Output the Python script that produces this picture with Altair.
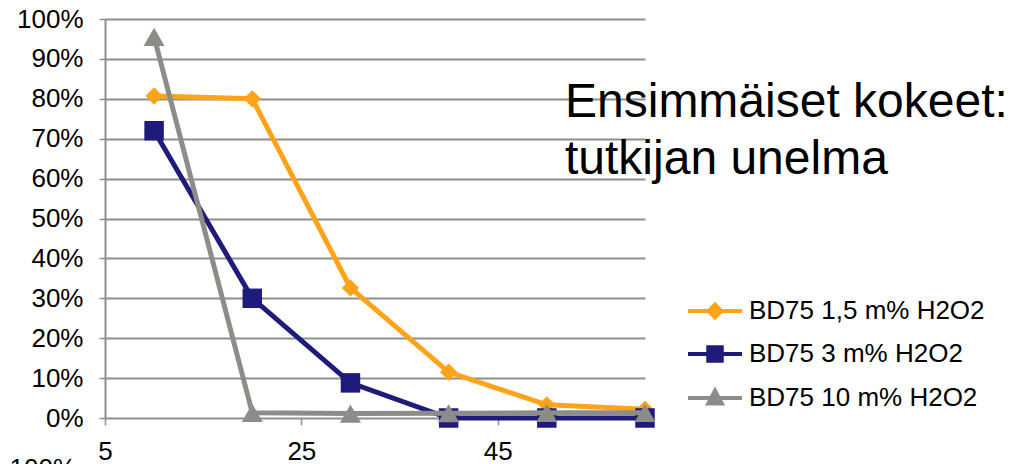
import altair as alt
import pandas as pd

# Share of remaining substance at each time point, three H2O2 doses
series_names = ["BD75 1,5 m% H2O2", "BD75 3 m% H2O2", "BD75 10 m% H2O2"]
time_points = [10, 20, 30, 40, 50, 60]
dose_1_5 = [0.807, 0.800, 0.326, 0.115, 0.033, 0.022]
dose_3 = [0.720, 0.300, 0.088, 0.0, 0.0, 0.0]
dose_10 = [0.955, 0.013, 0.011, 0.012, 0.013, 0.013]

series_colors = ["#FFA31A", "#1F1B7B", "#8C8C88"]
marker_shapes = ["diamond", "square", "triangle-up"]
marker_sizes = [300, 380, 440]
# legend symbols: a line segment through the marker
legend_paths = [
    "M-3,0L3,0M0,-0.7L0.7,0L0,0.7L-0.7,0Z",
    "M-3,0L3,0M-0.75,-0.75L0.75,-0.75L0.75,0.75L-0.75,0.75Z",
    "M-3,0L3,0M0,-0.8L0.75,0.6L-0.75,0.6Z",
]

x_ticks = [5, 25, 45]
y_ticks = [i / 10 for i in range(11)]
note_text = "Ensimmäiset kokeet:\ntutkijan unelma"
corner_text = "100%"

rows = []
for name, vals in zip(series_names, [dose_1_5, dose_3, dose_10]):
    for t, v in zip(time_points, vals):
        rows.append({"series": name, "t": t, "share": v})
df = pd.DataFrame(rows)

FONT = "Liberation Sans"
GRID = "#8E8E8E"

x_enc = alt.X(
    "t:Q",
    scale=alt.Scale(domain=[5, 60], nice=False, zero=False),
    axis=alt.Axis(
        values=x_ticks, title=None, grid=False, domain=False,
        tickColor=GRID, tickWidth=1.5, tickSize=7,
        labelFontSize=26, labelFont=FONT, labelColor="#000000",
        labelPadding=13, labelFlush=False,
    ),
)
y_enc = alt.Y(
    "share:Q",
    scale=alt.Scale(domain=[0, 1], nice=False),
    axis=alt.Axis(
        values=y_ticks, format=".0%", title=None,
        grid=True, gridColor=GRID, gridWidth=2,
        domain=True, domainColor=GRID, domainWidth=2,
        tickColor=GRID, tickWidth=1.5, tickSize=6,
        labelFontSize=26, labelFont=FONT, labelColor="#000000",
        labelPadding=16,
    ),
)

base = alt.Chart(df)
layers = []
for name, color, shape, size in zip(series_names, series_colors, marker_shapes, marker_sizes):
    sub = base.transform_filter(alt.datum.series == name)
    layers.append(
        sub.mark_line(color=color, strokeWidth=5).encode(x=x_enc, y=y_enc, order="t:Q")
    )
    layers.append(
        sub.mark_point(shape=shape, filled=True, color=color, size=size, opacity=1).encode(
            x=x_enc, y=y_enc
        )
    )

legend_cfg = alt.Legend(
    title=None, orient="none", legendX=597, legendY=279, padding=0,
    labelFontSize=26, labelFont=FONT, labelColor="#000000", labelLimit=400,
    symbolSize=324, symbolStrokeWidth=4, symbolOpacity=1,
    labelOffset=21, rowPadding=13,
)
legend_layer = base.mark_point(filled=True, opacity=0).encode(
    x=x_enc,
    y=y_enc,
    fill=alt.Fill("series:N", scale=alt.Scale(domain=series_names, range=series_colors), legend=legend_cfg),
    stroke=alt.Stroke("series:N", scale=alt.Scale(domain=series_names, range=series_colors), legend=legend_cfg),
    shape=alt.Shape("series:N", scale=alt.Scale(domain=series_names, range=legend_paths), legend=legend_cfg),
)

note = alt.Chart(pd.DataFrame({"note": [note_text]})).mark_text(
    align="left", baseline="alphabetic", fontSize=48, font=FONT,
    color="#000000", lineBreak="\n", lineHeight=57,
).encode(x=alt.value(460), y=alt.value(98), text="note:N")

corner = alt.Chart(pd.DataFrame({"label": [corner_text]})).mark_text(
    align="right", baseline="alphabetic", fontSize=26, font=FONT, color="#000000",
).encode(x=alt.value(-29), y=alt.value(458), text="label:N")

chart = alt.layer(*layers, legend_layer, note, corner).properties(
    width=540,
    height=399,
    autosize=alt.AutoSizeParams(type="none"),
    padding={"left": 105, "top": 19, "right": 376, "bottom": 46},
    background="#FFFFFF",
).configure_view(stroke=None)

chart.save("out.html", embed_options={"renderer": "svg", "actions": False})
